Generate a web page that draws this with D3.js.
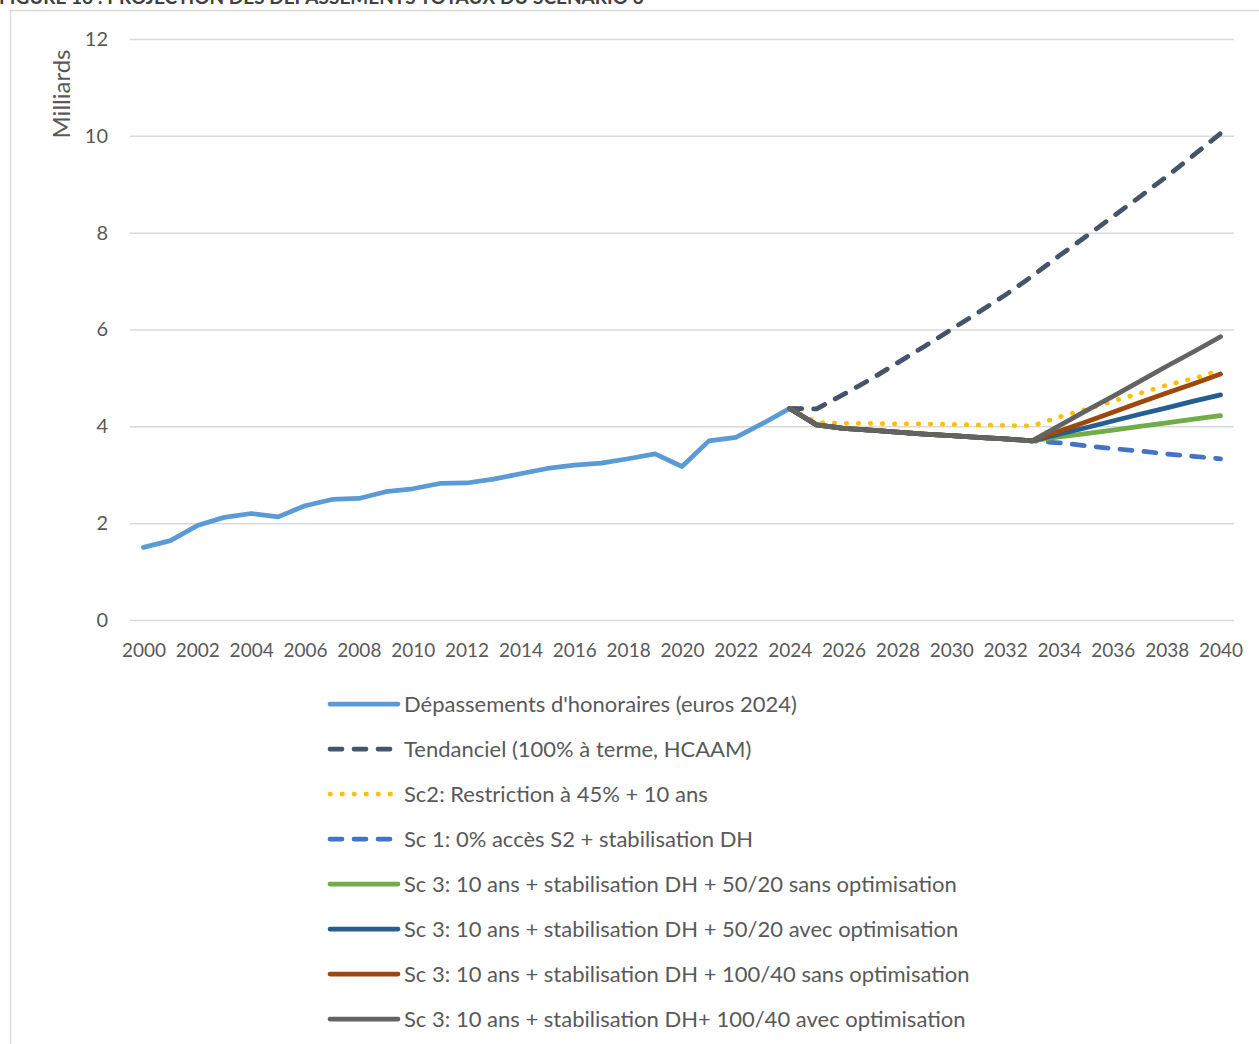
<!DOCTYPE html>
<html>
<head>
<meta charset="utf-8">
<script src="https://cdn.jsdelivr.net/npm/d3@7"></script>
<style>
  html, body { margin: 0; padding: 0; background: #fff; overflow: hidden; }
  svg { display: block; font-family: Lato, "Open Sans", sans-serif; }
</style>
</head>
<body>
<div id="chart"></div>
<script>
// categories
const years = [2000, 2001, 2002, 2003, 2004, 2005, 2006, 2007, 2008, 2009,
  2010, 2011, 2012, 2013, 2014, 2015, 2016, 2017, 2018, 2019,
  2020, 2021, 2022, 2023, 2024, 2025, 2026, 2027, 2028, 2029,
  2030, 2031, 2032, 2033, 2034, 2035, 2036, 2037, 2038, 2039, 2040];
const histYears = years.slice(0, 25);   // 2000 - 2024
const projYears = years.slice(24);      // 2024 - 2040

const yTicks = [0, 2, 4, 6, 8, 10, 12];

// series values (milliards d'euros)
const depassements = [1.50, 1.64, 1.95, 2.12, 2.20, 2.13, 2.36, 2.49, 2.51, 2.65,
  2.71, 2.82, 2.83, 2.91, 3.02, 3.13, 3.20, 3.24, 3.33, 3.43,
  3.17, 3.70, 3.77, 4.06, 4.37];
const tendanciel = [4.37, 4.36, 4.66, 4.97, 5.31, 5.65, 6.00, 6.35, 6.71, 7.10,
  7.52, 7.92, 8.33, 8.74, 9.16, 9.60, 10.05];
const sc2 = [4.37, 4.08, 4.06, 4.06, 4.05, 4.05, 4.04, 4.03, 4.02, 4.01,
  4.19, 4.35, 4.52, 4.68, 4.85, 4.99, 5.16];
const sc1 = [4.37, 4.03, 3.96, 3.92, 3.88, 3.84, 3.81, 3.77, 3.74, 3.70,
  3.66, 3.60, 3.54, 3.49, 3.43, 3.38, 3.33];
const sc3_5020_sans = [4.37, 4.03, 3.96, 3.92, 3.88, 3.84, 3.81, 3.77, 3.74, 3.70,
  3.78, 3.85, 3.92, 4.00, 4.07, 4.15, 4.22];
const sc3_5020_avec = [4.37, 4.03, 3.96, 3.92, 3.88, 3.84, 3.81, 3.77, 3.74, 3.70,
  3.84, 3.97, 4.11, 4.25, 4.38, 4.52, 4.65];
const sc3_10040_sans = [4.37, 4.03, 3.96, 3.92, 3.88, 3.84, 3.81, 3.77, 3.74, 3.70,
  3.90, 4.09, 4.29, 4.49, 4.69, 4.88, 5.08];
const sc3_10040_avec = [4.37, 4.03, 3.96, 3.92, 3.88, 3.84, 3.81, 3.77, 3.74, 3.70,
  4.01, 4.32, 4.62, 4.93, 5.24, 5.54, 5.85];

const seriesNames = [
  "Dépassements d'honoraires (euros 2024)",
  "Tendanciel (100% à terme, HCAAM)",
  "Sc2: Restriction à 45% + 10 ans",
  "Sc 1: 0% accès S2 + stabilisation DH",
  "Sc 3: 10 ans + stabilisation DH + 50/20 sans optimisation",
  "Sc 3: 10 ans + stabilisation DH + 50/20 avec optimisation",
  "Sc 3: 10 ans + stabilisation DH + 100/40 sans optimisation",
  "Sc 3: 10 ans + stabilisation DH+ 100/40 avec optimisation"
];

const W = 1259, H = 1044;
const svg = d3.select("#chart").append("svg").attr("width", W).attr("height", H);

// styles per series
const styles = [
  { color: "#5B9BD5", dash: null },
  { color: "#44546A", dash: "12,12" },
  { color: "#FFC000", dash: "0.5,11.5" },
  { color: "#4472C4", dash: "12,12" },
  { color: "#70AD47", dash: null },
  { color: "#255E91", dash: null },
  { color: "#9E480E", dash: null },
  { color: "#636363", dash: null }
];

const series = [
  { x: histYears, v: depassements },
  { x: projYears, v: tendanciel },
  { x: projYears, v: sc2 },
  { x: projYears, v: sc1 },
  { x: projYears, v: sc3_5020_sans },
  { x: projYears, v: sc3_5020_avec },
  { x: projYears, v: sc3_10040_sans },
  { x: projYears, v: sc3_10040_avec }
];

// title (cut at top of the page, as in the source)
svg.append("text")
  .attr("x", -1).attr("y", 4)
  .attr("font-size", 19).attr("font-weight", "bold")
  .attr("fill", "#404040")
  .text("FIGURE 16 : PROJECTION DES DÉPASSEMENTS TOTAUX DU SCÉNARIO 3");

// chart frame
svg.append("rect")
  .attr("x", 10.5).attr("y", 10.5)
  .attr("width", W + 20).attr("height", H + 20)
  .attr("fill", "none").attr("stroke", "#D9D9D9").attr("stroke-width", 1.5);

const x = d3.scalePoint().domain(years).range([130, 1234]).padding(0.5);
const y = d3.scaleLinear().domain([0, 12]).range([620, 39]);

// gridlines + y labels
const yAxis = d3.axisLeft(y).tickValues(yTicks).tickSize(-(1234 - 130)).tickPadding(22);
svg.append("g")
  .attr("transform", "translate(130,0)")
  .call(yAxis)
  .call(g => g.select(".domain").remove())
  .call(g => g.selectAll(".tick line").attr("stroke", "#D9D9D9").attr("stroke-width", 1.5))
  .call(g => g.selectAll(".tick text")
    .attr("font-size", 20).attr("fill", "#595959")
    .attr("font-family", "Lato, sans-serif"));

// x labels every other year
const xAxis = d3.axisBottom(x).tickValues(years.filter((d, i) => i % 2 === 0)).tickSize(0).tickPadding(24);
svg.append("g")
  .attr("transform", "translate(0,620)")
  .call(xAxis)
  .call(g => g.select(".domain").remove())
  .call(g => g.selectAll(".tick text")
    .attr("font-size", 19).attr("fill", "#595959")
    .attr("font-family", "Lato, sans-serif"));

// y title
svg.append("text")
  .attr("transform", "translate(70,94) rotate(-90)")
  .attr("text-anchor", "middle")
  .attr("font-size", 24).attr("fill", "#595959")
  .text("Milliards");

// lines
const line = d3.line().x(d => x(d[0])).y(d => y(d[1]));
series.forEach((s, i) => {
  const pts = s.x.map((yr, j) => [yr, s.v[j]]);
  svg.append("path")
    .datum(pts)
    .attr("d", line)
    .attr("fill", "none")
    .attr("stroke", styles[i].color)
    .attr("stroke-width", 4.75)
    .attr("stroke-linejoin", "round")
    .attr("stroke-linecap", "round")
    .attr("stroke-dasharray", styles[i].dash);
});

// legend
const legend = svg.append("g").attr("transform", "translate(0,704)");
seriesNames.forEach((name, i) => {
  const row = legend.append("g").attr("transform", `translate(0,${i * 45})`);
  row.append("line")
    .attr("x1", 330).attr("x2", 398)
    .attr("y1", 0).attr("y2", 0)
    .attr("stroke", styles[i].color)
    .attr("stroke-width", 4.75)
    .attr("stroke-linecap", "round")
    .attr("stroke-dasharray", styles[i].dash);
  row.append("text")
    .attr("x", 404).attr("y", 0)
    .attr("dy", "0.35em")
    .attr("font-size", 22).attr("fill", "#595959")
    .text(name);
});
</script>
</body>
</html>
